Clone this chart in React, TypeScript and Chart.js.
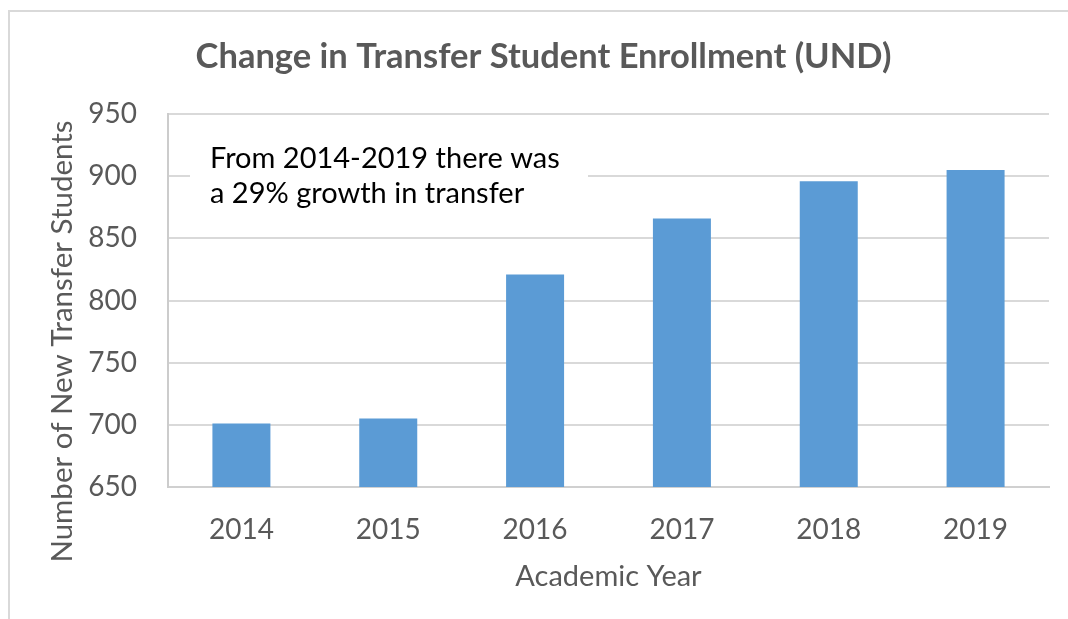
import React, { useEffect, useRef } from "react";
import { Chart, registerables } from "chart.js";

Chart.register(...registerables);

const categories = ["2014", "2015", "2016", "2017", "2018", "2019"];
const newTransferStudents = [701, 705, 821, 866, 896, 905];
const yMin = 650;
const yMax = 950;
const yStep = 50;
const chartTitle = "Change in Transfer Student Enrollment (UND)";
const xAxisTitle = "Academic Year";
const yAxisTitle = "Number of New Transfer Students";
const noteLines = ["From 2014-2019 there was", "a 29% growth in transfer"];

const FONT = "Lato, 'Open Sans', sans-serif";
const TEXT_GRAY = "#595959";

const decorPlugin = {
  id: "decor",
  beforeDraw(chart: any) {
    const ctx = chart.ctx;
    ctx.save();
    ctx.fillStyle = "#ffffff";
    ctx.fillRect(0, 0, chart.width, chart.height);
    ctx.strokeStyle = "#d9d9d9";
    ctx.lineWidth = 2;
    ctx.beginPath();
    ctx.moveTo(9, chart.height);
    ctx.lineTo(9, 11);
    ctx.lineTo(chart.width, 11);
    ctx.stroke();
    ctx.restore();
  },
  afterDraw(chart: any) {
    const ctx = chart.ctx;
    const area = chart.chartArea;
    const yScale = chart.scales.y;
    ctx.save();
    // annotation box
    const yc = yScale.getPixelForValue(900);
    ctx.fillStyle = "#ffffff";
    ctx.fillRect(area.left + 22, yc - 40, 398, 80);
    ctx.fillStyle = "#000000";
    ctx.font = `29px ${FONT}`;
    ctx.textAlign = "left";
    ctx.textBaseline = "alphabetic";
    ctx.fillText(noteLines[0], area.left + 42, area.top + 54);
    ctx.fillText(noteLines[1], area.left + 42, area.top + 89);
    // y axis title
    ctx.translate(62, (area.top + area.bottom) / 2 + 41);
    ctx.rotate(-Math.PI / 2);
    ctx.fillStyle = TEXT_GRAY;
    ctx.font = `29.5px ${FONT}`;
    ctx.textAlign = "center";
    ctx.textBaseline = "middle";
    ctx.fillText(yAxisTitle, 0, 0);
    ctx.restore();
  },
};

export default function App() {
  const canvasRef = useRef<HTMLCanvasElement | null>(null);

  useEffect(() => {
    if (!canvasRef.current) return;
    const chart = new Chart(canvasRef.current, {
      type: "bar",
      data: {
        labels: categories,
        datasets: [
          {
            label: "New Transfer Students",
            data: newTransferStudents,
            backgroundColor: "#5b9bd5",
            borderWidth: 0,
            barPercentage: 0.395,
            categoryPercentage: 1,
          },
        ],
      },
      options: {
        animation: false,
        responsive: false,
        devicePixelRatio: 1,
        layout: { padding: { left: 38, right: 19, top: 0, bottom: 0 } },
        plugins: {
          legend: { display: false },
          tooltip: { enabled: false },
          title: {
            display: true,
            text: chartTitle,
            color: TEXT_GRAY,
            font: { family: FONT, size: 34.5, weight: "bold", lineHeight: 1.2 },
            padding: { top: 36, bottom: 36.6 },
          },
        },
        scales: {
          x: {
            afterFit(scale: any) {
              scale.height = 132;
            },
            grid: { display: false, drawTicks: false },
            border: { display: true, color: "#d0d0d0", width: 2 },
            ticks: {
              color: TEXT_GRAY,
              font: { family: FONT, size: 28 },
              padding: 26,
            },
            title: {
              display: true,
              text: xAxisTitle,
              color: TEXT_GRAY,
              font: { family: FONT, size: 29, lineHeight: 1.2 },
              padding: { top: 0, bottom: 24.6 },
            },
          },
          y: {
            min: yMin,
            max: yMax,
            afterFit(scale: any) {
              scale.width = 130;
            },
            grid: { color: "#d9d9d9", lineWidth: 2, drawTicks: false },
            border: { display: true, color: "#cccccc", width: 2 },
            ticks: {
              stepSize: yStep,
              color: TEXT_GRAY,
              font: { family: FONT, size: 28 },
              padding: 31,
            },
          },
        },
      },
      plugins: [decorPlugin],
    });
    return () => chart.destroy();
  }, []);

  return (
    <div style={{ position: "fixed", left: 0, top: 0, width: 1068, height: 619, background: "#fff" }}>
      <canvas ref={canvasRef} width={1068} height={619} />
    </div>
  );
}
